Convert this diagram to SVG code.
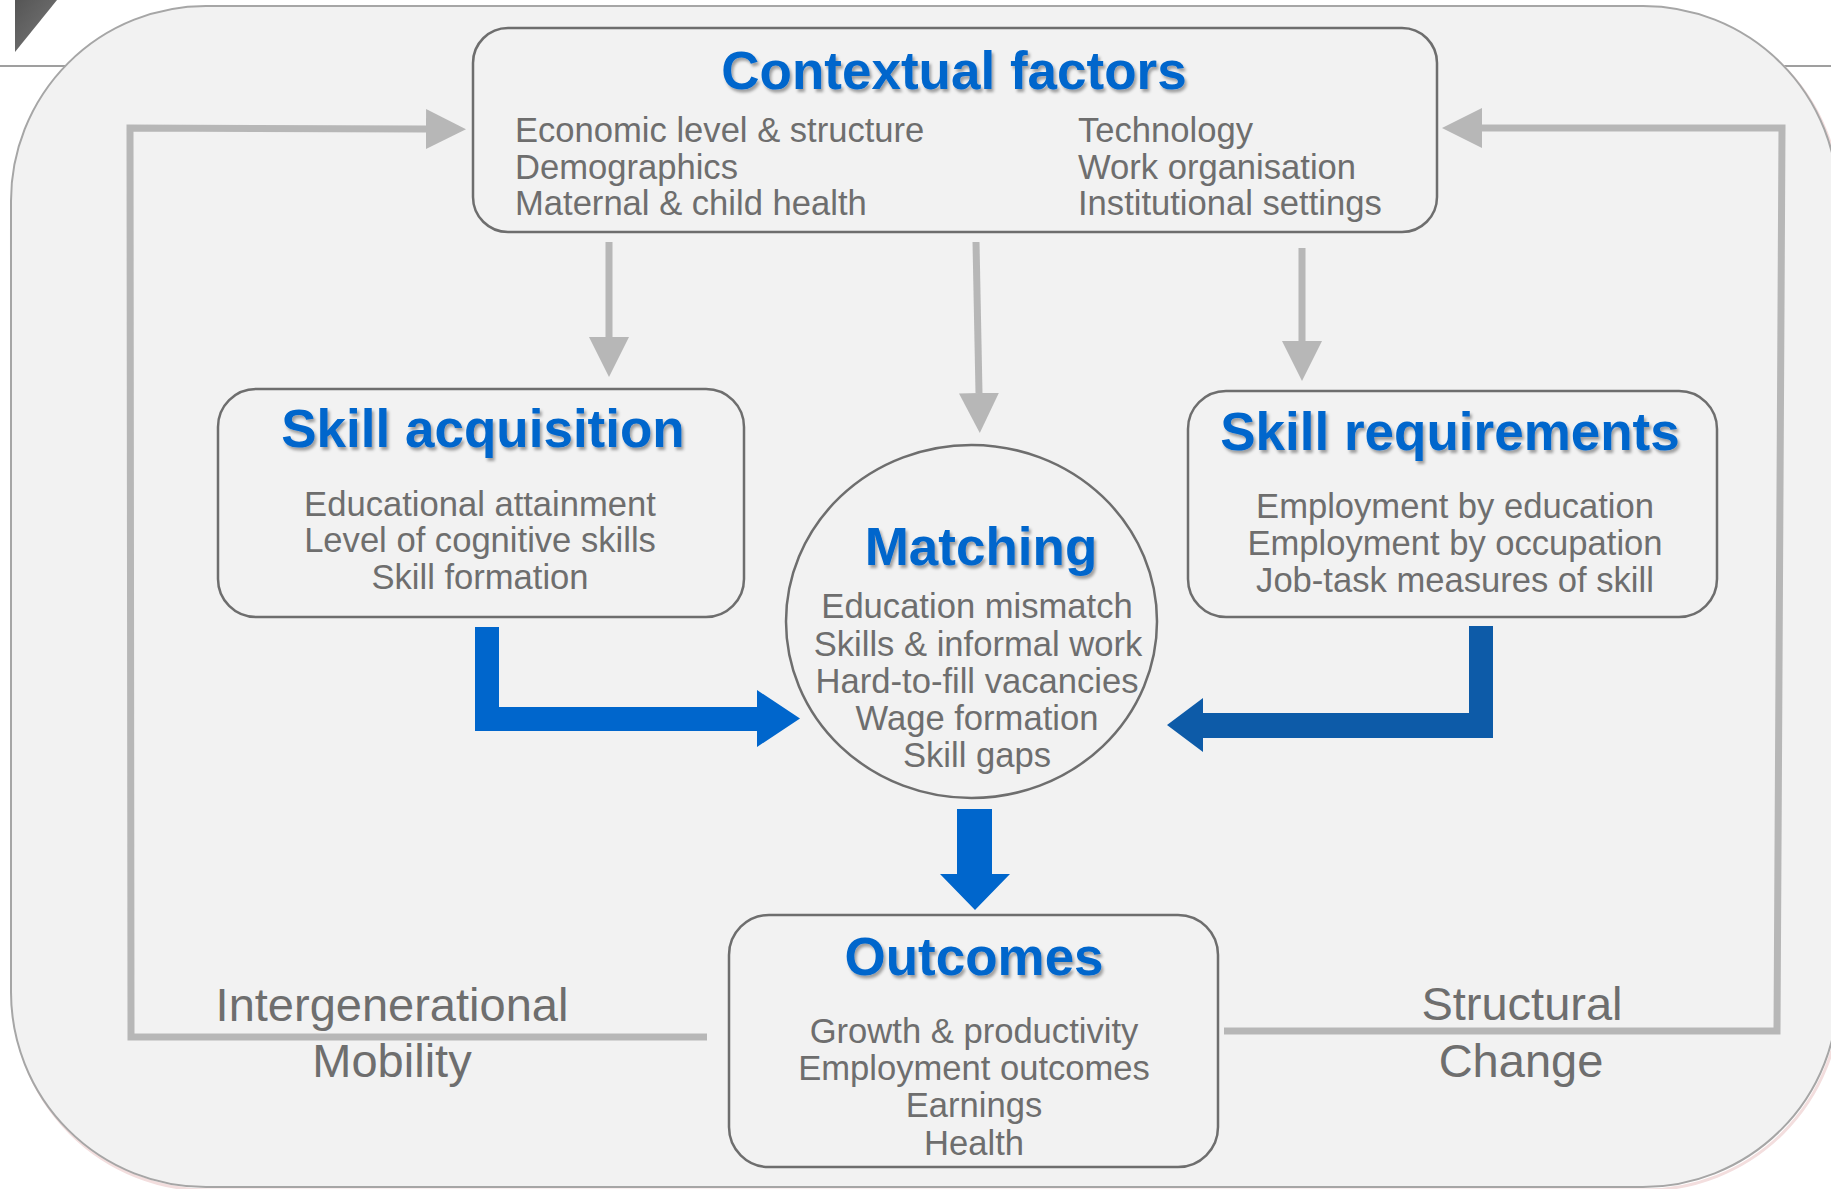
<svg xmlns="http://www.w3.org/2000/svg" width="1831" height="1189" viewBox="0 0 1831 1189">
  <style>
    .box { fill: none; stroke: #6E6E6E; stroke-width: 2.5; }
    .title { font-family: "Liberation Sans", Arial, sans-serif; font-weight: bold; font-size: 53px; fill: #0066CC; text-anchor: middle; filter: url(#shadow); }
    .body { font-family: "Liberation Sans", Arial, sans-serif; font-size: 34.6px; fill: #6E6E6E; }
    .mid { text-anchor: middle; }
    .label { font-family: "Liberation Sans", Arial, sans-serif; font-size: 47px; fill: #6E6E6E; text-anchor: middle; }
    .gray { fill: none; stroke: #B7B7B7; stroke-width: 7; stroke-linejoin: miter; marker-end: url(#grayHead); }
  </style>
  <defs>
    <filter id="shadow" x="-10%" y="-20%" width="120%" height="150%">
      <feDropShadow dx="2" dy="3" stdDeviation="1.5" flood-color="#000000" flood-opacity="0.35"/>
    </filter>
    <marker id="grayHead" markerUnits="userSpaceOnUse" markerWidth="40" markerHeight="40" refX="0" refY="20" orient="auto" viewBox="0 0 40 40">
      <path d="M0,0 L40,20 L0,40 z" fill="#B7B7B7"/>
    </marker>
    <linearGradient id="triGrad" x1="0" y1="0" x2="1" y2="1">
      <stop offset="0" stop-color="#555555"/>
      <stop offset="1" stop-color="#7a7a7a"/>
    </linearGradient>
  </defs>

  <rect x="0" y="0" width="1831" height="1189" fill="#FFFFFF"/>
  <line x1="0" y1="66" x2="1831" y2="66" stroke="#7F7F7F" stroke-width="1.5"/>
  <polygon points="15,0 57,0 15,52" fill="url(#triGrad)"/>

  <g id="background">
    <rect x="13" y="9" width="1827" height="1181" rx="195" ry="195" fill="none" stroke="#F3DEDE" stroke-width="3"/>
    <rect x="11" y="6" width="1827" height="1181" rx="195" ry="195" fill="#F2F2F2" stroke="#A6A6A6" stroke-width="2"/>
  </g>

  <g id="connectors">
    <path class="gray" d="M609,242 V337"/>
    <path class="gray" d="M976,242 L979,393"/>
    <path class="gray" d="M1302,248 V341"/>
    <path class="gray" d="M707,1037 L131,1037 L130,128 L426,129"/>
    <path class="gray" d="M1224,1031 L1777,1031 L1782,128 L1482,128"/>
    <polygon id="arrow-acq-match" points="475,627 499,627 499,707 757,707 757,690 800,718.5 757,747 757,731 475,731" fill="#0066CC"/>
    <polygon id="arrow-req-match" points="1469,626 1493,626 1493,738 1203,738 1203,752 1167,725 1203,698 1203,713 1469,713" fill="#0D5BA8"/>
    <polygon id="arrow-match-out" points="957,809 992,809 992,874 1010,874 975,910 940,874 957,874" fill="#0066CC"/>
  </g>

  <g id="contextual-factors">
    <rect class="box" x="473" y="28" width="964" height="204" rx="35" ry="35"/>
    <text class="title" x="954" y="89">Contextual factors</text>
    <text class="body" x="515" y="141.5">Economic level &amp; structure</text>
    <text class="body" x="515" y="178.5">Demographics</text>
    <text class="body" x="515" y="215">Maternal &amp; child health</text>
    <text class="body" x="1078" y="141.5">Technology</text>
    <text class="body" x="1078" y="178.5">Work organisation</text>
    <text class="body" x="1078" y="215">Institutional settings</text>
  </g>

  <g id="skill-acquisition">
    <rect class="box" x="218" y="389" width="526" height="228" rx="38" ry="38"/>
    <text class="title" x="483" y="447">Skill acquisition</text>
    <text class="body mid" x="480" y="516">Educational attainment</text>
    <text class="body mid" x="480" y="552">Level of cognitive skills</text>
    <text class="body mid" x="480" y="589">Skill formation</text>
  </g>

  <g id="matching">
    <ellipse class="box" cx="971.5" cy="621.5" rx="185.5" ry="176.5"/>
    <text class="title" x="981" y="565">Matching</text>
    <text class="body mid" x="977" y="618">Education mismatch</text>
    <text class="body mid" x="978" y="656">Skills &amp; informal work</text>
    <text class="body mid" x="977" y="693">Hard-to-fill vacancies</text>
    <text class="body mid" x="977" y="730">Wage formation</text>
    <text class="body mid" x="977" y="767">Skill gaps</text>
  </g>

  <g id="skill-requirements">
    <rect class="box" x="1188" y="391" width="529" height="226" rx="38" ry="38"/>
    <text class="title" x="1450" y="450">Skill requirements</text>
    <text class="body mid" x="1455" y="518">Employment by education</text>
    <text class="body mid" x="1455" y="555">Employment by occupation</text>
    <text class="body mid" x="1455" y="592">Job-task measures of skill</text>
  </g>

  <g id="outcomes">
    <rect class="box" x="729" y="915" width="489" height="252" rx="40" ry="40"/>
    <text class="title" x="974" y="975">Outcomes</text>
    <text class="body mid" x="974" y="1043">Growth &amp; productivity</text>
    <text class="body mid" x="974" y="1080">Employment outcomes</text>
    <text class="body mid" x="974" y="1117">Earnings</text>
    <text class="body mid" x="974" y="1155">Health</text>
  </g>

  <g id="labels">
    <text class="label" x="392" y="1021">Intergenerational</text>
    <text class="label" x="392" y="1077">Mobility</text>
    <text class="label" x="1522" y="1020">Structural</text>
    <text class="label" x="1521" y="1077">Change</text>
  </g>
</svg>
